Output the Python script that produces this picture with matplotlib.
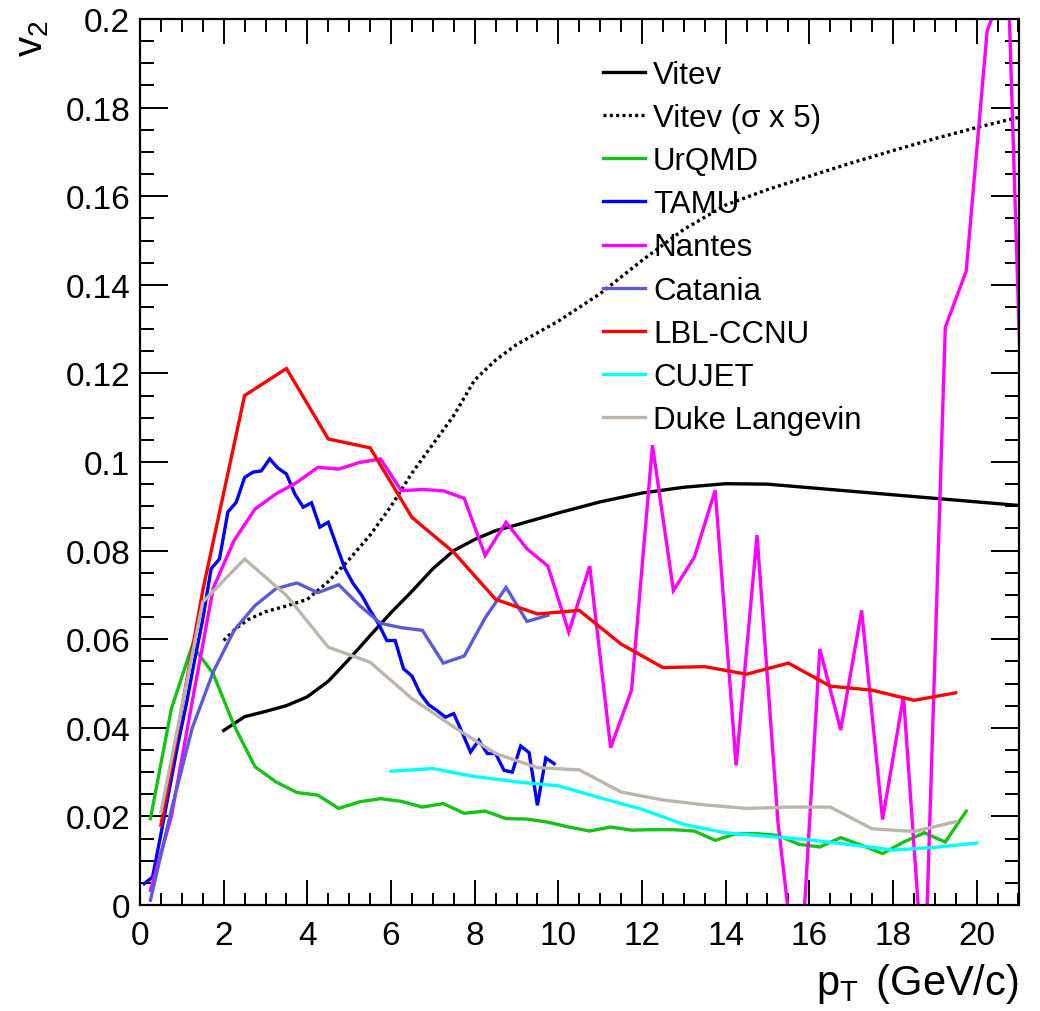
import matplotlib
matplotlib.use("Agg")
import matplotlib.pyplot as plt
from matplotlib.ticker import MultipleLocator, FormatStrFormatter

plt.rcParams['font.family'] = ['Liberation Sans', 'DejaVu Sans']
plt.rcParams['mathtext.fontset'] = 'custom'
plt.rcParams['mathtext.rm'] = 'Liberation Sans'
plt.rcParams['mathtext.it'] = 'Liberation Sans'

# ---------------- data ----------------
vitev_x = [2, 2.5, 3, 3.5, 4, 4.5, 5, 5.5, 6, 6.5, 7, 7.5, 8, 8.5, 9, 10, 11, 12, 13,
           14, 15, 16, 17, 18, 19, 20, 21]
vitev_y = [0.0394, 0.0425, 0.0437, 0.0450, 0.0470, 0.0505, 0.0555, 0.0608, 0.0660,
           0.0708, 0.0759, 0.0800, 0.0825, 0.0845, 0.0858, 0.0885, 0.0910, 0.0930,
           0.0943, 0.0951, 0.0950, 0.0942, 0.0934, 0.0926, 0.0918, 0.0910, 0.0902]

vitev5_x = [2, 2.3, 2.6, 3, 3.5, 4, 4.5, 5, 5.5, 6, 6.5, 7, 7.5, 8, 8.5, 9, 10, 11, 12,
            13, 14, 15, 16, 17, 18, 19, 20, 21]
vitev5_y = [0.0597, 0.0625, 0.0645, 0.0662, 0.0675, 0.0690, 0.0730, 0.0780, 0.0835,
            0.0900, 0.0975, 0.1040, 0.1105, 0.1185, 0.1230, 0.1265, 0.1318, 0.1380,
            0.1455, 0.1525, 0.1580, 0.1615, 0.1645, 0.1675, 0.1703, 0.1730, 0.1755,
            0.1778]

urqmd_x = [0.25 + 0.5 * i for i in range(40)]
urqmd_y = [0.0195, 0.0443, 0.0586, 0.0522, 0.0405, 0.0312, 0.0278, 0.0254, 0.0248,
           0.0218, 0.0233, 0.0240, 0.0234, 0.0221, 0.0229, 0.0207, 0.0212, 0.0195,
           0.0194, 0.0187, 0.0176, 0.0167, 0.0176, 0.0169, 0.0170, 0.0170, 0.0167,
           0.0146, 0.0161, 0.0161, 0.0157, 0.0137, 0.0131, 0.0152, 0.0135, 0.0116,
           0.0142, 0.0163, 0.0142, 0.0212]

tamu_x = [0.1 + 0.2 * i for i in range(50)]
tamu_y = [0.0048, 0.0063, 0.0160, 0.0260, 0.0360, 0.0450, 0.0550, 0.0645, 0.0759,
          0.0781, 0.0887, 0.0909, 0.0965, 0.0977, 0.0980, 0.1007, 0.0986, 0.0973,
          0.0928, 0.0898, 0.0908, 0.0853, 0.0864, 0.0811, 0.0759, 0.0725, 0.0699,
          0.0665, 0.0635, 0.0597, 0.0597, 0.0533, 0.0517, 0.0477, 0.0452, 0.0439,
          0.0424, 0.0432, 0.0390, 0.0345, 0.0372, 0.0342, 0.0342, 0.0304, 0.0300,
          0.0359, 0.0344, 0.0225, 0.0332, 0.0319]

nantes_x = [0.25 + 0.5 * i for i in range(43)]
nantes_y = [0.0033, 0.0200, 0.0460, 0.0715, 0.0823, 0.0894, 0.0928, 0.0954, 0.0988,
            0.0984, 0.0999, 0.1007, 0.0935, 0.0938, 0.0935, 0.0918, 0.0789, 0.0864,
            0.0804, 0.0765, 0.0616, 0.0765, 0.0355, 0.0485, 0.1038, 0.0710, 0.0785,
            0.0936, 0.0315, 0.0835, 0.0187, -0.0220, 0.0578, 0.0395, 0.0665, 0.0193,
            0.0471, -0.0200, 0.1304, 0.1431, 0.1973, 0.2100, 0.0580]

catania_x = [0.25 + 0.5 * i for i in range(20)]
catania_y = [0.0011, 0.0215, 0.0400, 0.0526, 0.0620, 0.0676, 0.0714, 0.0727, 0.0705,
             0.0723, 0.0676, 0.0636, 0.0626, 0.0620, 0.0546, 0.0562, 0.0648, 0.0717,
             0.0640, 0.0654]

lbl_x = [0.5 + i for i in range(20)]
lbl_y = [0.0180, 0.0710, 0.1150, 0.1211, 0.1052, 0.1032, 0.0875, 0.0796, 0.0690,
         0.0657, 0.0665, 0.0589, 0.0536, 0.0538, 0.0521, 0.0546, 0.0494, 0.0485,
         0.0462, 0.0479]

cujet_x = [6, 7, 8, 9, 10, 11, 12, 13, 14, 15, 16, 17, 18, 19, 20]
cujet_y = [0.0302, 0.0308, 0.0290, 0.0278, 0.0269, 0.0242, 0.0216, 0.0182, 0.0163,
           0.0155, 0.0147, 0.0136, 0.0124, 0.0130, 0.0140]

duke_x = [0.5 + i for i in range(20)]
duke_y = [0.0210, 0.0684, 0.0781, 0.0699, 0.0582, 0.0548, 0.0466, 0.0402, 0.0342,
          0.0310, 0.0305, 0.0255, 0.0237, 0.0226, 0.0218, 0.0221, 0.0221, 0.0172,
          0.0166, 0.0188]

labels = ["Vitev", "Vitev (\u03c3 x 5)", "UrQMD", "TAMU", "Nantes", "Catania",
          "LBL-CCNU", "CUJET", "Duke Langevin"]

# ---------------- figure ----------------
fig = plt.figure(figsize=(10.4, 10.12), dpi=100)
ax = fig.add_axes([140 / 1040, 106 / 1012, 878.5 / 1040, 886 / 1012])

lw = 2.4
series = [
    (vitev_x, vitev_y, dict(color="black", lw=lw)),
    (vitev5_x, vitev5_y, dict(color="black", lw=lw, linestyle=(0, (0.9, 1.0)))),
    (urqmd_x, urqmd_y, dict(color="#14c314", lw=lw)),
    (tamu_x, tamu_y, dict(color="#0000ff", lw=lw)),
    (nantes_x, nantes_y, dict(color="#ff00ff", lw=lw)),
    (catania_x, catania_y, dict(color="#5b5bd9", lw=lw)),
    (lbl_x, lbl_y, dict(color="#ff0000", lw=lw)),
    (cujet_x, cujet_y, dict(color="#00ffff", lw=lw)),
    (duke_x, duke_y, dict(color="#bdb5ab", lw=lw)),
]
for (x, y, kw), lab in zip(series, labels):
    ax.plot(x, y, label=lab, solid_joinstyle="miter", **kw)

ax.set_xlim(0, 21)
ax.set_ylim(0, 0.2)

ax.xaxis.set_major_locator(MultipleLocator(2))
ax.xaxis.set_minor_locator(MultipleLocator(0.5))
ax.yaxis.set_major_locator(MultipleLocator(0.02))
ax.yaxis.set_minor_locator(MultipleLocator(0.005))
ax.yaxis.set_major_formatter(FormatStrFormatter('%g'))
ax.xaxis.set_major_formatter(FormatStrFormatter('%g'))

ax.tick_params(which='both', direction='in', top=True, right=True, width=1.4,
               labelsize=24)
ax.tick_params(axis='x', which='major', length=18, pad=11)
ax.tick_params(axis='x', which='minor', length=9)
ax.tick_params(axis='y', which='major', length=20, pad=7)
ax.tick_params(axis='y', which='minor', length=10)
for s in ax.spines.values():
    s.set_linewidth(1.6)

ax.text(1.0, -0.1005, r"$\mathregular{p_{T}}\,$ (GeV/c)", transform=ax.transAxes,
        ha='right', va='baseline', fontsize=30)
ax.text(-0.1115, 1.0, r"$\mathregular{v_{2}}$", transform=ax.transAxes,
        ha='right', va='baseline', rotation=90, rotation_mode='anchor', fontsize=29)

leg = ax.legend(loc='upper left', bbox_to_anchor=(603 / 1040, 1 - 61 / 1012),
                bbox_transform=fig.transFigure, frameon=False, fontsize=22.5,
                handlelength=1.34, handletextpad=0.26, labelspacing=0.42,
                borderpad=0, borderaxespad=0)

fig.savefig("out.png", dpi=100)
